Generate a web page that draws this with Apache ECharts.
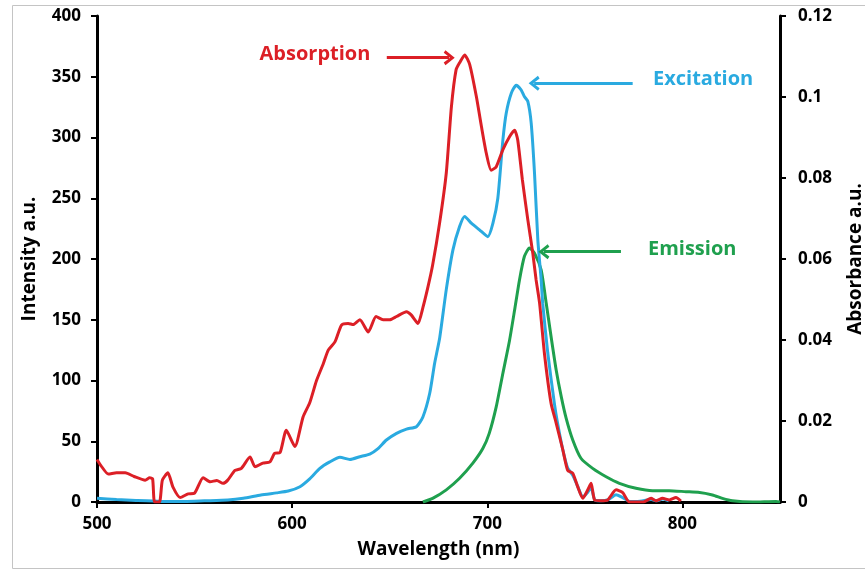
<!DOCTYPE html>
<html>
<head>
<meta charset="utf-8">
<title>Absorption, excitation and emission spectra</title>
<script src="https://cdn.jsdelivr.net/npm/echarts@6/dist/echarts.min.js"></script>
<style>
  html, body { margin: 0; padding: 0; background: #ffffff; }
  #chart { width: 865px; height: 569px; }
</style>
</head>
<body>
<div id="chart"></div>
<script>
// Absorption spectrum (right axis, absorbance a.u.)
const absWavelength = [500, 502, 505.8, 510, 514.5, 519, 524.7, 527, 528.5, 529.5, 532, 533.5, 536.3, 539, 542.6, 546.7, 550, 554.4, 558, 561.4, 564.6, 567, 570.7, 574, 578.4, 581, 585, 588.6, 591, 593.8, 597, 601.4, 605.6, 609, 612.5, 616, 618.5, 622, 625.3, 628.7, 631.3, 634.7, 639, 643, 646.6, 650, 653.5, 658.6, 661, 664.5, 667, 669.6, 672, 675.6, 679, 681.6, 684, 686, 688.4, 691, 694.4, 697, 699.5, 702, 704.6, 708, 711.4, 714, 715.6, 718, 720.8, 723.3, 725, 726.8, 729.3, 732.7, 735.3, 738.7, 741.2, 743.8, 746.3, 748.9, 751.5, 753.2, 755, 758.3, 761.7, 766, 769.4, 772.8, 777, 780, 783.9, 786.4, 789.8, 793.3, 796.7, 799.2];
const absValue = [0.0105, 0.009, 0.0069, 0.0072, 0.0072, 0.0063, 0.0054, 0.006, 0.0057, 0, 0, 0.0054, 0.0072, 0.0036, 0.0011, 0.002, 0.0022, 0.006, 0.005, 0.0053, 0.0046, 0.0054, 0.0078, 0.0083, 0.0111, 0.0087, 0.0096, 0.0099, 0.012, 0.0122, 0.0177, 0.0137, 0.021, 0.0245, 0.03, 0.0342, 0.0375, 0.0396, 0.0437, 0.0441, 0.0438, 0.045, 0.042, 0.0458, 0.045, 0.045, 0.0458, 0.047, 0.0462, 0.0441, 0.048, 0.0531, 0.0585, 0.069, 0.0813, 0.0975, 0.1067, 0.1086, 0.1104, 0.108, 0.1001, 0.0927, 0.0861, 0.0819, 0.0828, 0.087, 0.0902, 0.0918, 0.0894, 0.0795, 0.0696, 0.0615, 0.0549, 0.0491, 0.0366, 0.0243, 0.0195, 0.0129, 0.0078, 0.0071, 0.0038, 0.0009, 0.003, 0.0046, 0.0005, 0.0003, 0.0005, 0.003, 0.0023, 0, 0, 0, 0.0009, 0.0003, 0.0009, 0.0005, 0.0011, 0.0002];

// Excitation spectrum (left axis, intensity a.u.)
const excWavelength = [500, 510, 520, 533, 545, 555, 567, 575, 584, 592, 598, 604, 609, 614.2, 619.3, 624.5, 629.6, 634.7, 639.8, 644, 648.3, 653.5, 658.6, 663.7, 667, 670.5, 673, 675.6, 679, 682.4, 685.8, 688.4, 691.8, 696, 700.3, 702.9, 705.4, 708, 709.7, 712.3, 714.8, 717.4, 719, 720.8, 722.5, 724.2, 725.9, 727.6, 728.4, 731, 734.4, 736, 738.7, 741.2, 743.8, 746.3, 748.9, 751.5, 753.2, 755, 758, 762, 766, 769, 773, 777, 784, 787, 790, 793];
const excValue = [3, 2, 1.2, 0.5, 0.5, 1, 1.6, 3, 5.8, 7.5, 9, 12.6, 19, 27.7, 33, 36.8, 35, 37.3, 39.5, 44, 51, 56.5, 60, 62, 70, 89.5, 114, 135, 175, 207.5, 226.7, 235, 229.5, 224, 218.4, 229.5, 250, 298, 320, 336.5, 343, 339, 333.7, 329.6, 311.8, 270.6, 215.7, 183, 163.6, 122.6, 81, 65, 43, 28, 22, 13, 4, 8, 12, 2, 1, 2, 6, 4, 0.5, 0.5, 2, 1, 2.5, 1];

// Emission spectrum (left axis, intensity a.u.)
const emWavelength = [667, 672, 679, 685.8, 692.6, 697.7, 701, 704.6, 708, 711.4, 714, 716.5, 719, 721.6, 724.2, 727.6, 730.2, 732.7, 735.3, 737.9, 740.4, 743.8, 748, 754, 760.9, 767.7, 776.2, 784.7, 793.2, 801.8, 808, 815.4, 820.5, 825.6, 836, 848, 850];
const emValue = [0, 3, 10, 19.5, 32, 44, 56.5, 78.5, 106, 133, 158, 182.8, 202, 209, 204.8, 191, 163.6, 136, 108.7, 86.7, 69, 51, 36, 27.7, 20.8, 15.4, 11.3, 9.3, 9.3, 8.5, 8, 5.8, 3, 1, 0, 0.5, 0];

// Axis ticks
const xTicks = { min: 500, max: 850, interval: 100 };
const intensityTicks = { min: 0, max: 400, interval: 50 };
const absorbanceTicks = { min: 0, max: 0.12, interval: 0.02 };

// Annotations: label text, label position, arrow start, arrow end
const absNote = { text: 'Absorption', at: [611.7, 0.1106], from: [648.5, 0.1097], to: [680.5, 0.1097] };
const excNote = { text: 'Excitation', at: [810.6, 348], from: [774.5, 344.6], to: [724, 344.6] };
const emNote = { text: 'Emission', at: [805, 208], from: [768.5, 206], to: [729, 206] };

const RED = '#DC1F26';
const BLUE = '#2AAAE0';
const GREEN = '#1FA04E';
const FONT = '"Open Sans"';

const zip = (xs, ys) => xs.map((x, i) => [x, ys[i]]);

// Open chevron arrowhead, tip pointing up before rotation
const CHEVRON = 'path://M10,0 L20,11 L16.5,13 L10,5.5 L3.5,13 L0,11 Z';

function note(n, color) {
  return {
    markLine: {
      silent: true,
      animation: false,
      symbol: ['none', CHEVRON],
      symbolSize: [15, 11],
      label: { show: false },
      lineStyle: { color: color, width: 3, type: 'solid' },
      data: [[{ coord: n.from }, { coord: n.to }]]
    },
    markPoint: {
      silent: true,
      animation: false,
      symbol: 'circle',
      symbolSize: 0,
      label: {
        show: true,
        position: 'inside',
        formatter: n.text,
        color: color,
        fontFamily: FONT,
        fontWeight: 'bold',
        fontSize: 20
      },
      data: [{ coord: n.at }]
    }
  };
}

const axisText = { color: '#000', fontFamily: FONT, fontWeight: 'bold', fontSize: 17 };
const nameText = { color: '#000', fontFamily: FONT, fontWeight: 'bold', fontSize: 19 };
const axisLine = { show: true, onZero: false, lineStyle: { color: '#000', width: 3 } };
const axisTick = { show: true, length: 6, lineStyle: { color: '#000', width: 2 } };

const chart = echarts.init(document.getElementById('chart'), null, { renderer: 'canvas' });

chart.setOption({
  backgroundColor: '#ffffff',
  animation: false,
  graphic: [{
    type: 'rect',
    left: 10, top: 3,
    shape: { width: 853, height: 563 },
    style: { fill: 'none', stroke: '#c4c4c4', lineWidth: 1 },
    silent: true,
    z: -1
  }],
  grid: { left: 97, right: 85, top: 16, bottom: 67, containLabel: false, outerBoundsMode: 'none' },
  xAxis: {
    type: 'value',
    min: xTicks.min, max: xTicks.max, interval: xTicks.interval,
    name: 'Wavelength (nm)',
    nameLocation: 'middle',
    nameGap: 38,
    nameTextStyle: nameText,
    axisLine: axisLine,
    axisTick: axisTick,
    axisLabel: Object.assign({ margin: 14, showMaxLabel: false }, axisText),
    splitLine: { show: false }
  },
  yAxis: [{
    type: 'value',
    position: 'left',
    min: intensityTicks.min, max: intensityTicks.max, interval: intensityTicks.interval,
    name: 'Intensity a.u.',
    nameLocation: 'middle',
    nameGap: 58,
    nameTextStyle: nameText,
    axisLine: axisLine,
    axisTick: axisTick,
    axisLabel: Object.assign({ margin: 16 }, axisText),
    splitLine: { show: false }
  }, {
    type: 'value',
    position: 'right',
    min: absorbanceTicks.min, max: absorbanceTicks.max, interval: absorbanceTicks.interval,
    name: 'Absorbance a.u.',
    nameLocation: 'middle',
    nameGap: 66,
    nameRotate: 90,
    nameTextStyle: nameText,
    axisLine: axisLine,
    axisTick: axisTick,
    axisLabel: Object.assign({ margin: 18 }, axisText),
    splitLine: { show: false }
  }],
  series: [
    Object.assign({
      name: 'Emission',
      type: 'line',
      yAxisIndex: 0,
      data: zip(emWavelength, emValue),
      showSymbol: false,
      smooth: 0.2,
      lineStyle: { color: GREEN, width: 3 },
      itemStyle: { color: GREEN },
      z: 2
    }, note(emNote, GREEN)),
    Object.assign({
      name: 'Excitation',
      type: 'line',
      yAxisIndex: 0,
      data: zip(excWavelength, excValue),
      showSymbol: false,
      smooth: 0.2,
      lineStyle: { color: BLUE, width: 3 },
      itemStyle: { color: BLUE },
      z: 3
    }, note(excNote, BLUE)),
    Object.assign({
      name: 'Absorption',
      type: 'line',
      yAxisIndex: 1,
      data: zip(absWavelength, absValue),
      showSymbol: false,
      smooth: 0.2,
      lineStyle: { color: RED, width: 3 },
      itemStyle: { color: RED },
      z: 4
    }, note(absNote, RED))
  ]
});
</script>
</body>
</html>
